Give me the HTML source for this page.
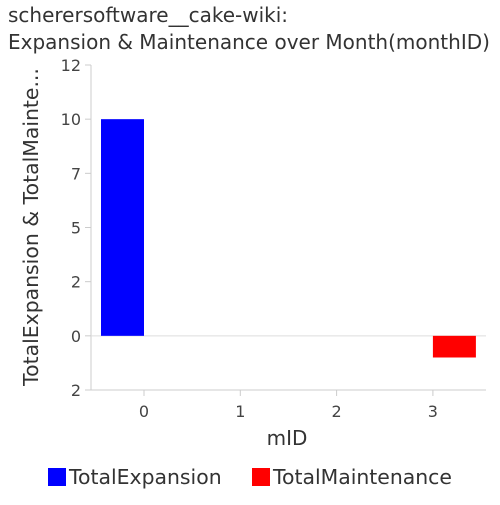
<!DOCTYPE html>
<html><head><meta charset="utf-8"><style>
body{margin:0;background:#fff;font-family:"Liberation Sans","DejaVu Sans",sans-serif}
text{font-family:"DejaVu Sans","Liberation Sans",sans-serif}
</style></head><body>
<svg id="chart" width="500" height="500">
<text x="8" y="22" font-size="20" fill="#333">scherersoftware__cake-wiki:</text>
<text x="8" y="49" font-size="20" fill="#333">Expansion &amp; Maintenance over Month(monthID)</text>
<g id="axes"></g><g id="bars"></g>
<text x="287" y="445" font-size="20" fill="#333" text-anchor="middle">mID</text>
<text transform="translate(38,227) rotate(-90)" font-size="20.4" fill="#333" text-anchor="middle">TotalExpansion &amp; TotalMainte...</text>
<rect x="48" y="468" width="18" height="18" fill="#0000ff"/>
<text x="69" y="484" font-size="20.4" fill="#333">TotalExpansion</text>
<rect x="252" y="468" width="18" height="18" fill="#ff0000"/>
<text x="273" y="484" font-size="20.4" fill="#333">TotalMaintenance</text>
</svg>
<script>
const categories=[0,1,2,3];
const expansion=[10,0,0,0];
const maintenance=[0,0,0,-1];
const yTicks=[12.5,10,7.5,5,2.5,0,-2.5];
const yTickLabels=["12","10","7","5","2","0","2"];
const NS="http://www.w3.org/2000/svg";
const L=91,R=486,T=65,B=390,yMax=12.5,yMin=-2.5;
const y=v=>T+(yMax-v)/(yMax-yMin)*(B-T);
const x=i=>144+i*96.3;
const bw=43;
function mk(p,tag,a){const e=document.createElementNS(NS,tag);for(const k in a)e.setAttribute(k,a[k]);p.appendChild(e);return e;}
const ax=document.getElementById('axes'),bars=document.getElementById('bars');
let l=mk(ax,'line',{x1:L,y1:T,x2:L,y2:B,stroke:'#ccc'});

l=mk(ax,'line',{x1:L,y1:B,x2:R,y2:B,stroke:'#ccc'});

l=mk(ax,'line',{x1:L,y1:y(0),x2:R,y2:y(0),stroke:'#ddd'});

yTicks.forEach((v,i)=>{
 const t=mk(ax,'line',{x1:L-6,y1:y(v),x2:L,y2:y(v),stroke:'#ccc'});
 
 const tx=mk(ax,'text',{x:L-10,y:y(v)+6,'font-size':16,fill:'#444','text-anchor':'end'});
 tx.textContent=yTickLabels[i];
 
});
categories.forEach((c,i)=>{
 const t=mk(ax,'line',{x1:x(i),y1:B,x2:x(i),y2:B+6,stroke:'#ccc'});
 
 const tx=mk(ax,'text',{x:x(i),y:B+27,'font-size':16,fill:'#444','text-anchor':'middle'});
 tx.textContent=c;
 
 const e=expansion[i];
 if(e!==0){const r=mk(bars,'rect',{x:x(i)-bw,y:Math.min(y(e),y(0)),width:bw,height:Math.abs(y(e)-y(0)),fill:'#0000ff'});
 }
 const m=maintenance[i];
 if(m!==0){const r=mk(bars,'rect',{x:x(i),y:Math.min(y(m),y(0)),width:bw,height:Math.abs(y(m)-y(0)),fill:'#ff0000'});
 }
});
</script>
</body></html>
